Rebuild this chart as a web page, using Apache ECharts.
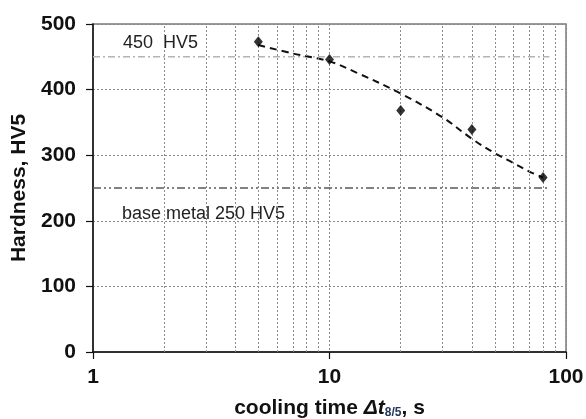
<!DOCTYPE html>
<html>
<head>
<meta charset="utf-8">
<script src="https://cdn.jsdelivr.net/npm/echarts@6/dist/echarts.min.js"></script>
<style>
  html, body { margin: 0; padding: 0; background: #ffffff; }
  #chart { width: 586px; height: 419px; }
</style>
</head>
<body>
<div id="chart"></div>
<script>
// measured hardness
const coolTimes = [5, 10, 20, 40, 80]
const hardness = [473, 446, 368, 339, 266]

// dashed trend curve
const trendTimes = [5, 7, 10, 13, 20, 30, 40, 50, 60, 70, 80]
const trendHardness = [468, 455, 443, 426, 394, 358, 325, 303, 288, 275, 266]

// reference levels
const refX = [1, 85]
const maxLevel = 450
const baseLevel = 250

// minor vertical grid lines of the log axis
const minorTicks = [2, 3, 4, 5, 6, 7, 8, 9, 20, 30, 40, 50, 60, 70, 80, 90]

const font = 'Liberation Sans, Arial, sans-serif'
const chart = echarts.init(document.getElementById('chart'))

chart.setOption({
  backgroundColor: '#ffffff',
  animation: false,
  grid: {
    left: 93,
    right: 20,
    top: 24,
    bottom: 67,
    outerBoundsMode: 'none',
    show: true,
    borderColor: '#7a7a7a',
    borderWidth: 1.5
  },
  xAxis: {
    type: 'log',
    logBase: 10,
    min: 1,
    max: 100,
    name: 'cooling time {it|Δ}{itb|t}{sub|8/5}, s',
    nameLocation: 'middle',
    nameGap: 46,
    nameTextStyle: {
      fontFamily: font,
      fontSize: 21,
      fontWeight: 'bold',
      color: '#111',
      rich: {
        it: { fontFamily: font, fontSize: 21, fontStyle: 'italic', color: '#111' },
        itb: { fontFamily: font, fontSize: 21, fontStyle: 'italic', fontWeight: 'bold', color: '#111' },
        sub: { fontFamily: font, fontSize: 12, fontWeight: 'bold', color: '#24365a', padding: [8, 0, 0, 0] }
      }
    },
    axisLine: { lineStyle: { color: '#111', width: 1.5 } },
    axisTick: { show: true, inside: false, length: 7, lineStyle: { color: '#111', width: 1.2 } },
    axisLabel: { fontFamily: font, fontSize: 21, fontWeight: 'bold', color: '#111', margin: 15 },
    splitLine: { show: true, lineStyle: { color: '#8a8a8a', type: [2, 2], width: 1 } },
    minorTick: { show: false },
    minorSplitLine: { show: false }
  },
  yAxis: {
    type: 'value',
    min: 0,
    max: 500,
    interval: 100,
    name: 'Hardness, HV5',
    nameLocation: 'middle',
    nameGap: 60,
    nameTextStyle: { fontFamily: font, fontSize: 21, fontWeight: 'bold', color: '#111' },
    axisLine: { show: true, lineStyle: { color: '#111', width: 1.5 } },
    axisTick: { show: true, inside: false, length: 7, lineStyle: { color: '#111', width: 1.2 } },
    axisLabel: { fontFamily: font, fontSize: 21, fontWeight: 'bold', color: '#111', margin: 17 },
    splitLine: { show: true, lineStyle: { color: '#8a8a8a', type: [2, 2], width: 1 } }
  },
  graphic: [
    {
      type: 'group',
      z: 50,
      children: [
        { type: 'rect', shape: { x: 95, y: 26, width: 155, height: 29 }, style: { fill: '#ffffff' } },
        {
          type: 'text', x: 123, y: 43,
          style: { text: '450  HV5', font: '18px ' + font, fill: '#222', textVerticalAlign: 'middle' }
        },
        { type: 'rect', shape: { x: 117, y: 197, width: 185, height: 36 }, style: { fill: '#ffffff' } },
        {
          type: 'text', x: 122, y: 214,
          style: { text: 'base metal 250 HV5', font: '18px ' + font, fill: '#222', textVerticalAlign: 'middle' }
        }
      ]
    }
  ],
  series: [
    {
      name: 'grid minor',
      type: 'line',
      data: [],
      silent: true,
      markLine: {
        silent: true,
        symbol: 'none',
        label: { show: false },
        lineStyle: { color: '#8a8a8a', type: [2, 2], width: 1 },
        data: minorTicks.map(v => ({ xAxis: v }))
      }
    },
    {
      name: '450 HV5',
      type: 'line',
      data: refX.map(x => [x, maxLevel]),
      symbol: 'none',
      z: 3,
      lineStyle: { color: '#b4b4b4', width: 1.5, type: [7, 3, 2, 3] }
    },
    {
      name: 'base metal',
      type: 'line',
      data: refX.map(x => [x, baseLevel]),
      symbol: 'none',
      z: 3,
      lineStyle: { color: '#5a5a5a', width: 1.5, type: [8, 3, 2, 3, 2, 3] }
    },
    {
      name: 'trend',
      type: 'line',
      data: trendTimes.map((t, i) => [t, trendHardness[i]]),
      smooth: 0.35,
      symbol: 'none',
      z: 4,
      lineStyle: { color: '#111', width: 2, type: [7, 5] }
    },
    {
      name: 'measured',
      type: 'scatter',
      data: coolTimes.map((t, i) => [t, hardness[i]]),
      symbol: 'diamond',
      symbolSize: [9, 11],
      z: 5,
      itemStyle: { color: '#000' }
    }
  ]
})
</script>
</body>
</html>
